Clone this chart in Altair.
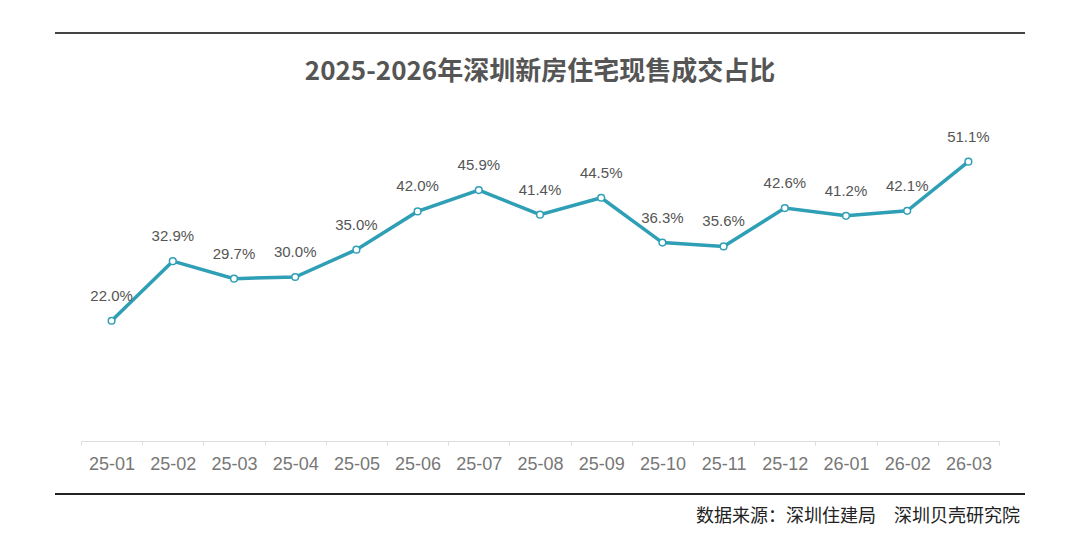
import altair as alt
import pandas as pd

# 月份和现售成交占比(%)
months = ["25-01", "25-02", "25-03", "25-04", "25-05", "25-06", "25-07", "25-08",
          "25-09", "25-10", "25-11", "25-12", "26-01", "26-02", "26-03"]
share = [22.0, 32.9, 29.7, 30.0, 35.0, 42.0, 45.9, 41.4,
         44.5, 36.3, 35.6, 42.6, 41.2, 42.1, 51.1]

title_text = "2025-2026年深圳新房住宅现售成交占比"
source_text = "数据来源：深圳住建局\u3000深圳贝壳研究院"

df = pd.DataFrame({"月份": months, "占比": share})
df["标签"] = [f"{v:.1f}%" for v in share]

teal = "#2f9fb6"
cjk = "Noto Sans CJK SC"

x_enc = alt.X("月份:N", sort=months,
              scale=alt.Scale(paddingInner=0, paddingOuter=0),
              axis=alt.Axis(title=None, labelAngle=0, labelFontSize=18,
                            labelColor="#777", labelFont="Liberation Sans",
                            labelPadding=10, domainColor="#ddd", tickColor="#ddd",
                            tickSize=4, tickBand="extent", grid=False))
y_enc = alt.Y("占比:Q", scale=alt.Scale(domain=[0, 60]), axis=None)

base = alt.Chart(df).encode(x=x_enc, y=y_enc)

line = base.mark_line(color=teal, strokeWidth=3.5)
points = base.mark_point(shape="circle", size=45, filled=True, fill="white",
                         stroke=teal, strokeWidth=1.5, opacity=1)
labels = base.mark_text(fontSize=15, color="#555", font="Liberation Sans",
                        baseline="middle", dy=-25).encode(text="标签:N")

# 装饰：上下横线、标题和来源
deco = alt.Chart(pd.DataFrame({"t": [title_text]}))
top_rule = deco.mark_rule(color="#444", strokeWidth=2).encode(
    x=alt.value(-26), x2=alt.value(944), y=alt.value(-80))
bottom_rule = deco.mark_rule(color="#222", strokeWidth=2).encode(
    x=alt.value(-26), x2=alt.value(944), y=alt.value(381))
title = deco.mark_text(font=cjk, fontSize=26, fontWeight="bold", color="#555",
                       align="center", baseline="middle").encode(
    x=alt.value(459), y=alt.value(-41), text="t:N")
source = alt.Chart(pd.DataFrame({"s": [source_text]})).mark_text(
    font=cjk, fontSize=18, color="#222", align="right", baseline="middle").encode(
    x=alt.value(939), y=alt.value(404), text="s:N")

chart = alt.layer(line, points, labels, top_rule, bottom_rule, title, source).properties(
    width=918, height=328,
    autosize=alt.AutoSizeParams(type="none"),
    padding={"left": 73, "top": 105, "right": 73, "bottom": 86},
).configure_view(stroke=None)

chart.save("out.html", embed_options={"renderer": "svg", "actions": False})
